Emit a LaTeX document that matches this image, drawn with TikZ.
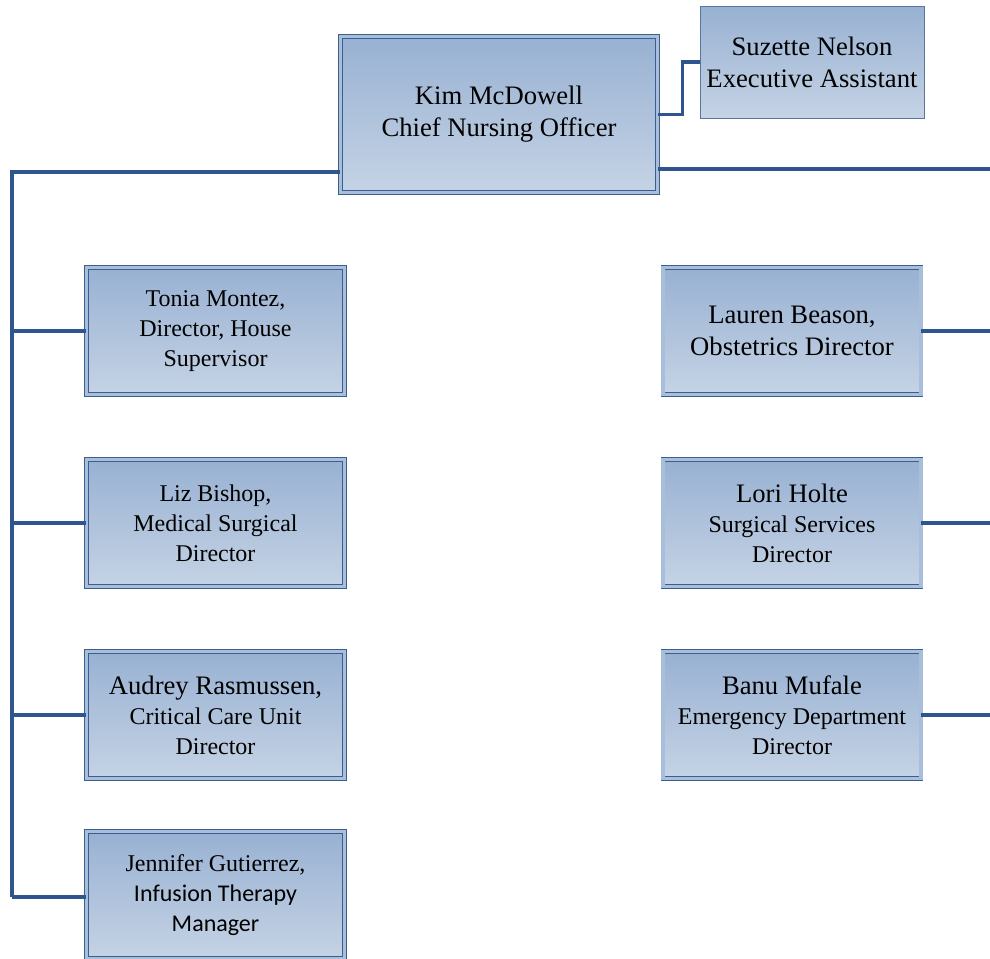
\documentclass[tikz,border=0pt]{standalone}
\usepackage{fontspec}
\setmainfont{Liberation Serif}
\usetikzlibrary{positioning}

\definecolor{edgeblue}{HTML}{3A5E8E}
\definecolor{bandblue}{HTML}{A9BEDA}
\definecolor{topblue}{HTML}{98B1D2}
\definecolor{botblue}{HTML}{C5D3E5}
\definecolor{linkblue}{HTML}{2F5590}

\newcommand{\leadline}[1]{{\fontsize{20}{24}\selectfont #1}}
\newcommand{\sansline}[1]{{\fontspec{Carlito}#1}}

\tikzset{
  unit/.style = {shape = rectangle, draw = edgeblue, line width = 0.6pt,
    double = bandblue, double distance = 2.4pt,
    top color = topblue, bottom color = botblue,
    minimum width = 193.5pt, minimum height = 95.5pt,
    align = center, inner sep = 2pt, text = black,
    font = \fontsize{18}{22.5}\selectfont},
  chief/.style = {unit, minimum width = 238pt, minimum height = 117pt,
    font = \fontsize{20}{24}\selectfont},
  aide/.style = {shape = rectangle, draw = edgeblue!85, line width = 0.75pt,
    top color = topblue, bottom color = botblue,
    minimum width = 168pt, minimum height = 84pt,
    align = center, inner sep = 2pt, font = \fontsize{20}{24}\selectfont},
  link/.style = {draw = linkblue, line width = 2.3pt}
}

\begin{document}
\begin{tikzpicture}[x = 0.75pt, y = -0.75pt]
\useasboundingbox (0,0) rectangle (990,958);
\clip (0,0) rectangle (990,958);

% top level
\node[chief] (cno) at (499,114.5) {Kim McDowell\\Chief Nursing Officer};
\node[aide] (asst) at (812,62) {Suzette Nelson\\Executive Assistant};

% left column
\node[unit] (tonia) at (215.5,331) {Tonia Montez,\\Director, House\\Supervisor};
\node[unit] (liz) at (215.5,523) {Liz Bishop,\\Medical Surgical\\Director};
\node[unit] (audrey) at (215.5,715) {\leadline{Audrey Rasmussen,}\\Critical Care Unit\\Director};
\node[unit] (jen) at (215.5,895) {Jennifer Gutierrez,\\\sansline{Infusion Therapy}\\\sansline{Manager}};

% right column
\node[unit, font = \fontsize{20}{24}\selectfont] (lauren) at (792,331) {Lauren Beason,\\Obstetrics Director};
\node[unit] (lori) at (792,523) {\leadline{Lori Holte}\\Surgical Services\\Director};
\node[unit] (banu) at (792,715) {\leadline{Banu Mufale}\\Emergency Department\\Director};

% connectors
\coordinate (trunkL) at (12,897);
\coordinate (trunkR) at (990,169);
\draw[link] (cno.east) -- ++(24,0) |- (asst.west);
\draw[link] (cno.west |- 0,172) -| (trunkL);
\draw[link] (cno.east |- trunkR) -- (trunkR);
\foreach \n in {tonia, liz, audrey}
  \draw[link] (trunkL |- \n.west) -- (\n.west);
\draw[link] (trunkL) -- (jen.west |- trunkL);
\foreach \n in {lauren, lori, banu}
  \draw[link] (\n.east) -- (trunkR |- \n.east);
\end{tikzpicture}
\end{document}
